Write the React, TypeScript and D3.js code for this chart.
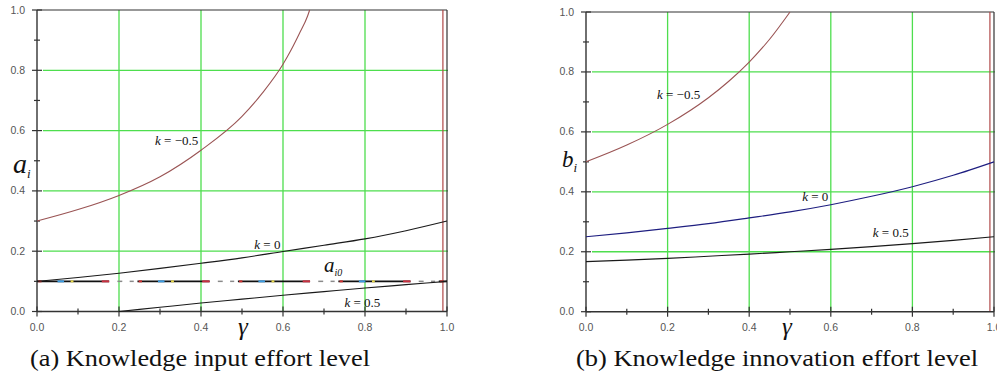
import * as d3 from 'd3';

// gamma sample points
const gammaFull = [0, 0.1, 0.2, 0.3, 0.4, 0.5, 0.6, 0.7, 0.8, 0.9, 1.0];

// (a) knowledge input effort a_i
const gammaANeg = [0, 0.1, 0.2, 0.3, 0.4, 0.5, 0.55, 0.6, 0.62, 0.64, 0.66, 0.665];
const aKNeg = [0.3, 0.338, 0.385, 0.447, 0.535, 0.647, 0.725, 0.82, 0.868, 0.922, 0.98, 1.0];
const aK0 = [0.1, 0.113, 0.127, 0.143, 0.16, 0.178, 0.199, 0.22, 0.241, 0.268, 0.3];
const gammaAPos = [0.2, 0.3, 0.4, 0.5, 0.6, 0.7, 0.8, 0.9, 1.0];
const aKPos = [0, 0.014, 0.028, 0.041, 0.054, 0.066, 0.078, 0.089, 0.1];
const aI0 = 0.1;

// (b) knowledge innovation effort b_i
const gammaBNeg = [0, 0.1, 0.2, 0.3, 0.35, 0.4, 0.45, 0.5];
const bKNeg = [0.5, 0.556, 0.625, 0.714, 0.769, 0.833, 0.909, 1.0];
const bK0 = [0.25, 0.263, 0.278, 0.294, 0.313, 0.333, 0.357, 0.385, 0.417, 0.455, 0.5];
const bKPos = [0.167, 0.172, 0.178, 0.185, 0.192, 0.2, 0.208, 0.217, 0.227, 0.238, 0.25];

const majorTicks = [0, 0.2, 0.4, 0.6, 0.8, 1.0];
const minorTicks = [0.1, 0.3, 0.5, 0.7, 0.9];
const tickLabels = ['0.0', '0.2', '0.4', '0.6', '0.8', '1.0'];
const gridTicks = [0.2, 0.4, 0.6, 0.8];
const boundaryGamma = 0.99;

// dash pattern of the a_i0 line, in gamma units: solid run, then gap
const a0Solid = 0.176;
const a0Period = 0.245;
// faint short dashes inside each gap (start, length)
const a0GapDashes = [
  { at: 0.196, len: 0.012 },
  { at: 0.226, len: 0.01 },
];
const a0Accents = [
  { at: 0.003, len: 0.008, color: '#d03030' },
  { at: 0.05, len: 0.016, color: '#3d9be0' },
  { at: 0.082, len: 0.007, color: '#e8d84a' },
  { at: 0.158, len: 0.018, color: '#c83040' },
];

const SERIF = { fontFamily: '"Times New Roman", "Liberation Serif", Times, serif' };
const SANS = { fontFamily: 'Arial, "Liberation Sans", Helvetica, sans-serif' };
const GREEN = '#4ede4e';
const AXIS = '#333';
const BROWN = '#9a5454';

type Series = { g: number[]; v: number[]; color: string };
type Label = { g: number; v: number; text: string };

const Panel = ({ x0, x1, y0, y1, series, labels, yName, yNameX, yNameY, yNameSize, gammaX, showA0 }: any) => {
  const x = d3.scaleLinear().domain([0, 1]).range([x0, x1]);
  const y = d3.scaleLinear().domain([0, 1]).range([y0, y1]);
  const line = d3.line<[number, number]>().x(d => x(d[0])).y(d => y(d[1])).curve(d3.curveMonotoneX);

  const solids: { a: number; b: number; color: string; w: number }[] = [];
  if (showA0) {
    for (let p = 0; p < 1; p += a0Period) {
      solids.push({ a: p, b: Math.min(1, p + a0Solid), color: '#111', w: 1.8 });
      a0GapDashes.forEach(d => {
        const a = p + d.at;
        if (a < 1) solids.push({ a, b: Math.min(1, a + d.len), color: '#8a8a8a', w: 1.5 });
      });
      a0Accents.forEach(ac => {
        const a = p + ac.at;
        if (a < 1) solids.push({ a, b: Math.min(1, a + ac.len), color: ac.color, w: 2 });
      });
    }
  }
  return (
    <g>
      {gridTicks.map(t => (
        <line key={'gx' + t} x1={x(t)} x2={x(t)} y1={y(1)} y2={y(0)} stroke={GREEN} strokeWidth={1.3} />
      ))}
      {gridTicks.map(t => (
        <line key={'gy' + t} x1={x0 + 6} x2={x(1) + 1} y1={y(t)} y2={y(t)} stroke={GREEN} strokeWidth={1.3} />
      ))}
      {/* frame */}
      <line x1={x0} x2={x(1)} y1={y(1)} y2={y(1)} stroke={AXIS} strokeWidth={1.2} />
      <line x1={x(1)} x2={x(1)} y1={y(1)} y2={y(0)} stroke={AXIS} strokeWidth={1.2} />
      <line x1={x(boundaryGamma)} x2={x(boundaryGamma)} y1={y(1)} y2={y(0)} stroke="#b04848" strokeWidth={1.2} />
      <line x1={x0} x2={x0} y1={y(1)} y2={y(0)} stroke={AXIS} strokeWidth={1.4} />
      <line x1={x0} x2={x(1)} y1={y(0)} y2={y(0)} stroke={AXIS} strokeWidth={1.4} />
      {majorTicks.map(t => (
        <g key={'mt' + t}>
          <line x1={x0 - 5} x2={x0 + 5} y1={y(t)} y2={y(t)} stroke={AXIS} strokeWidth={1.2} />
          <line x1={x(t)} x2={x(t)} y1={y(0) - 5} y2={y(0) + 5} stroke={AXIS} strokeWidth={1.2} />
        </g>
      ))}
      {minorTicks.map(t => (
        <g key={'nt' + t}>
          <line x1={x0 - 3} x2={x0 + 3} y1={y(t)} y2={y(t)} stroke={AXIS} strokeWidth={1.2} />
          <line x1={x(t)} x2={x(t)} y1={y(0) - 3} y2={y(0) + 3} stroke={AXIS} strokeWidth={1.2} />
        </g>
      ))}
      {majorTicks.map((t, i) => (
        <text key={'yl' + t} x={x0 - 12} y={y(t) + 3.5} textAnchor="end" style={SANS} fontSize={10.5} fill="#555">
          {tickLabels[i]}
        </text>
      ))}
      {majorTicks.map((t, i) => (
        <text key={'xl' + t} x={x(t)} y={y(0) + 19} textAnchor="middle" style={SANS} fontSize={10.5} fill="#555">
          {tickLabels[i]}
        </text>
      ))}
      {solids.map((s, i) => (
        <line key={'a0' + i} x1={x(s.a)} x2={x(s.b)} y1={y(aI0)} y2={y(aI0)} stroke={s.color} strokeWidth={s.w} />
      ))}
      {series.map((s: Series, i: number) => (
        <path key={'s' + i} d={line(s.g.map((g, j) => [g, s.v[j]] as [number, number])) || ''}
          fill="none" stroke={s.color} strokeWidth={1.1} />
      ))}
      {labels.map((l: Label, i: number) => (
        <text key={'lb' + i} x={x(l.g)} y={y(l.v)} style={SERIF} fontSize={13} fill="#111">
          <tspan fontStyle="italic">k</tspan>{' = ' + l.text}
        </text>
      ))}
      {showA0 && (
        <text x={x(0.7)} y={y(0.13)} style={SERIF} fontStyle="italic" fontSize={21} fill="#111">
          a<tspan fontSize={10} dy={4}>i0</tspan>
        </text>
      )}
      <text x={yNameX} y={yNameY} style={SERIF} fontStyle="italic" fontSize={yNameSize} fill="#111">
        {yName}<tspan fontSize={13} dy={5}>i</tspan>
      </text>
      <text x={gammaX} y={y(0) + 23} style={SERIF} fontStyle="italic" fontSize={25} fill="#111">
        γ
      </text>
    </g>
  );
};

const App = () => {
  const leftSeries: Series[] = [
    { g: gammaANeg, v: aKNeg, color: BROWN },
    { g: gammaFull, v: aK0, color: '#1a1a1a' },
    { g: gammaAPos, v: aKPos, color: '#1a1a1a' },
  ];
  const rightSeries: Series[] = [
    { g: gammaBNeg, v: bKNeg, color: BROWN },
    { g: gammaFull, v: bK0, color: '#1e1e80' },
    { g: gammaFull, v: bKPos, color: '#1a1a1a' },
  ];
  const leftLabels: Label[] = [
    { g: 0.288, v: 0.553, text: '−0.5' },
    { g: 0.53, v: 0.207, text: '0' },
    { g: 0.75, v: 0.015, text: '0.5' },
  ];
  const rightLabels: Label[] = [
    { g: 0.174, v: 0.71, text: '−0.5' },
    { g: 0.53, v: 0.37, text: '0' },
    { g: 0.703, v: 0.249, text: '0.5' },
  ];
  return (
    <svg width={997} height={378} style={{ position: 'absolute', left: 0, top: 0, background: '#fff' }}>
      <rect width={997} height={378} fill="#fff" />
      <Panel x0={37} x1={447} y0={311.5} y1={10} series={leftSeries} labels={leftLabels}
        yName="a" yNameX={13} yNameY={173} yNameSize={28} gammaX={238} showA0 />
      <Panel x0={586} x1={994} y0={311.7} y1={12} series={rightSeries} labels={rightLabels}
        yName="b" yNameX={562} yNameY={167} yNameSize={23} gammaX={782} showA0={false} />
      <text x={30} y={366} style={SERIF} fontSize={23} fill="#111" textLength={340} lengthAdjust="spacingAndGlyphs">
        (a) Knowledge input effort level
      </text>
      <text x={576} y={366} style={SERIF} fontSize={23} fill="#111" textLength={402} lengthAdjust="spacingAndGlyphs">
        (b) Knowledge innovation effort level
      </text>
    </svg>
  );
};

export default App;
